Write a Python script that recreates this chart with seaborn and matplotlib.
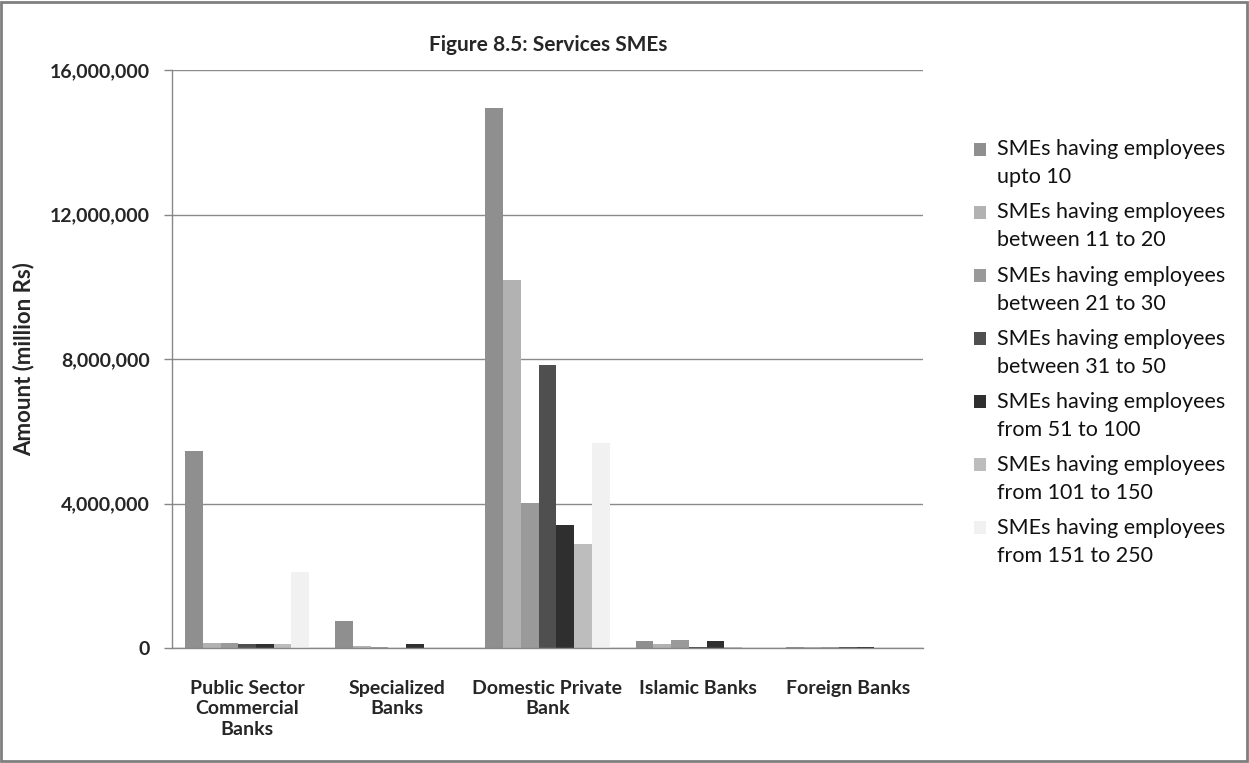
import matplotlib
matplotlib.use("Agg")
import matplotlib.pyplot as plt
import matplotlib.patches as mpatches
from matplotlib.legend_handler import HandlerPatch
import seaborn as sns
import pandas as pd

categories = ["Public Sector\nCommercial\nBanks", "Specialized\nBanks",
              "Domestic Private\nBank", "Islamic Banks", "Foreign Banks"]

series_names = [
    "SMEs having employees\nupto 10",
    "SMEs having employees\nbetween 11 to 20",
    "SMEs having employees\nbetween 21 to 30",
    "SMEs having employees\nbetween 31 to 50",
    "SMEs having employees\nfrom 51 to 100",
    "SMEs having employees\nfrom 101 to 150",
    "SMEs having employees\nfrom 151 to 250",
]

upto_10 = [5450000, 750000, 14950000, 180000, 20000]
from_11_to_20 = [140000, 50000, 10190000, 110000, 30000]
from_21_to_30 = [140000, 20000, 4020000, 210000, 40000]
from_31_to_50 = [120000, 0, 7830000, 40000, 40000]
from_51_to_100 = [120000, 120000, 3400000, 180000, 20000]
from_101_to_150 = [120000, 0, 2880000, 30000, 10000]
from_151_to_250 = [2100000, 0, 5670000, 10000, 0]

series_values = [upto_10, from_11_to_20, from_21_to_30, from_31_to_50,
                 from_51_to_100, from_101_to_150, from_151_to_250]

y_ticks = [0, 4000000, 8000000, 12000000, 16000000]

palette = ["#8f8f8f", "#b2b2b2", "#9a9a9a", "#4f4f4f", "#2f2f2f", "#bdbdbd", "#f1f1f1"]

rows = []
for name, vals in zip(series_names, series_values):
    for cat, v in zip(categories, vals):
        rows.append({"Bank": cat, "Series": name, "Amount": v})
df = pd.DataFrame(rows)

sns.set_style("white")
plt.rcParams["font.family"] = ["Lato", "DejaVu Sans"]

fig = plt.figure(figsize=(12.49, 7.63), dpi=100)
ax = fig.add_axes([172 / 1249, 1 - 648 / 763, (923 - 172) / 1249, (648 - 70) / 763])

sns.barplot(data=df, x="Bank", y="Amount", hue="Series", order=categories,
            hue_order=series_names, palette=palette, width=0.826, gap=0,
            linewidth=0, saturation=1, ax=ax, legend=False, errorbar=None)

ax.set_xlim(-0.5, len(categories) - 0.5)
ax.set_ylim(0, 16000000)
ax.set_yticks(y_ticks)
ax.set_yticklabels([f"{v:,}" for v in y_ticks], fontsize=14, fontweight="bold")
ax.yaxis.grid(True, color="#8a8a8a", linewidth=1)
ax.set_axisbelow(True)

# category boundaries carry the tick marks, centres carry the labels
ax.set_xticks([i - 0.5 for i in range(len(categories) + 1)])
ax.set_xticklabels([])
ax.set_xticks(range(len(categories)), minor=True)
ax.set_xticklabels(categories, minor=True, fontsize=14, fontweight="bold",
                   linespacing=1.25, va="top")
ax.tick_params(axis="x", which="major", length=8, width=1, color="#555555", direction="out")
ax.tick_params(axis="x", which="minor", length=0, pad=23)
ax.tick_params(axis="y", length=6, width=1, color="#888888", pad=10, left=True)

for side in ["top", "right"]:
    ax.spines[side].set_visible(False)
for side in ["left", "bottom"]:
    ax.spines[side].set_color("#888888")
    ax.spines[side].set_linewidth(1)

ax.set_xlabel("")
ax.set_ylabel("Amount (million Rs)", fontsize=16, fontweight="bold")
ax.yaxis.set_label_coords(-0.183, 0.5)

fig.text(548 / 1249, 1 - 45 / 763, "Figure 8.5: Services SMEs", ha="center", va="center",
         fontsize=15, fontweight="bold")


def first_line_square(legend, orig_handle, xdescent, ydescent, width, height, fontsize):
    # legend swatch raised to sit beside the first line of a two-line label
    return mpatches.Rectangle((-xdescent, -ydescent + 10.5), width, height)


handles = [mpatches.Patch(facecolor=c, edgecolor="none", label=n)
           for c, n in zip(palette, series_names)]
leg = fig.legend(handles=handles, loc="upper left", bbox_to_anchor=(955 / 1249, 1 - 120 / 763),
                 frameon=False, fontsize=15.5, handlelength=0.55, handleheight=0.55,
                 handletextpad=0.5, labelspacing=0.7,
                 handler_map={mpatches.Patch: HandlerPatch(patch_func=first_line_square)})
for t in leg.get_texts():
    t.set_linespacing(1.5)
    t.set_color("#111111")

# outer chart border
fig.patches.append(mpatches.Rectangle((0.001, 0.002), 0.997, 0.995, transform=fig.transFigure,
                                      fill=False, edgecolor="#7f7f7f", linewidth=2))

fig.savefig("out.png", dpi=100)
